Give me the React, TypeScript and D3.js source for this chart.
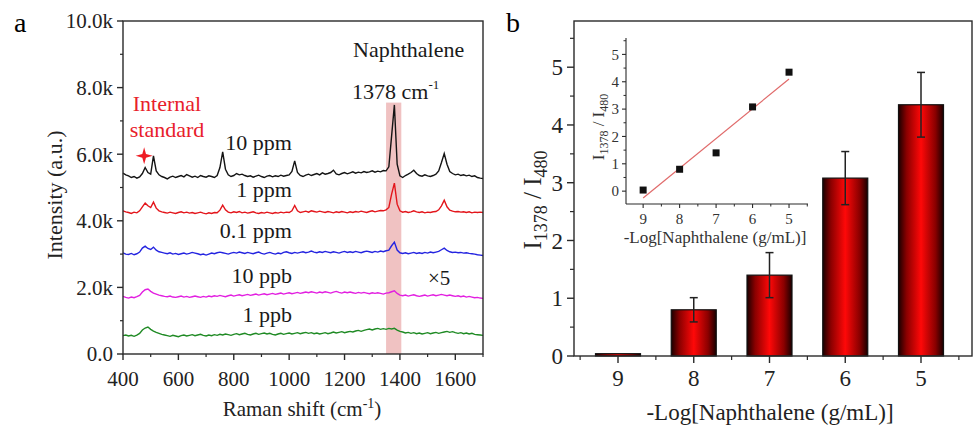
import React from "react";
import * as d3 from "d3";

const WIDTH = 974;
const HEIGHT = 426;
const SERIF = "Liberation Serif, DejaVu Serif, serif";

// ---- panel a: SERS spectra, intensity in k a.u., one point every 10 cm-1 from 400 to 1700
const WAVE_START = 400;
const WAVE_STEP = 10;

const spec10ppm = [
  5.43, 5.38, 5.35, 5.30, 5.33, 5.28, 5.32, 5.42, 5.60, 5.45,
  5.40, 5.95, 5.50, 5.38, 5.33, 5.30, 5.26, 5.31, 5.34, 5.30,
  5.33, 5.36, 5.32, 5.39, 5.35, 5.31, 5.34, 5.30, 5.36, 5.33,
  5.31, 5.35, 5.33, 5.30, 5.36, 5.60, 6.07, 5.55, 5.38, 5.33,
  5.36, 5.42, 5.38, 5.40, 5.36, 5.33, 5.35, 5.31, 5.34, 5.37,
  5.33, 5.30, 5.34, 5.36, 5.32, 5.35, 5.33, 5.37, 5.34, 5.36,
  5.38, 5.48, 5.80, 5.45, 5.36, 5.33, 5.37, 5.40, 5.36, 5.39,
  5.42, 5.38, 5.44, 5.40, 5.42, 5.45, 5.52, 5.41, 5.38, 5.42,
  5.45, 5.41, 5.44, 5.47, 5.43, 5.46, 5.44, 5.48, 5.45, 5.47,
  5.50, 5.46, 5.49, 5.47, 5.51, 5.50, 5.62, 6.55, 7.48, 5.70,
  5.35, 5.30, 5.36, 5.40, 5.45, 5.52, 5.42, 5.36, 5.34, 5.38,
  5.35, 5.33, 5.36, 5.40, 5.50, 5.75, 6.02, 5.70, 5.48, 5.42,
  5.38, 5.40, 5.36, 5.38, 5.35, 5.37, 5.33, 5.35, 5.30, 5.28,
  5.27,
];
const spec1ppm = [
  4.30, 4.27, 4.25, 4.22, 4.26, 4.24, 4.30, 4.42, 4.53, 4.45,
  4.40, 4.56, 4.38, 4.30, 4.27, 4.25, 4.23, 4.26, 4.24, 4.22,
  4.25, 4.27, 4.24, 4.26, 4.23, 4.25, 4.22, 4.24, 4.26, 4.23,
  4.21, 4.24, 4.22, 4.25, 4.24, 4.32, 4.47, 4.33, 4.26, 4.24,
  4.27, 4.25, 4.28, 4.24, 4.26, 4.23, 4.25, 4.27, 4.24, 4.22,
  4.25, 4.23, 4.26, 4.24, 4.22, 4.25, 4.23, 4.26, 4.24, 4.26,
  4.25, 4.30, 4.46, 4.30, 4.25, 4.27, 4.29, 4.26, 4.30, 4.28,
  4.26, 4.29, 4.27, 4.25, 4.28, 4.26, 4.24, 4.27, 4.25, 4.28,
  4.26, 4.24, 4.27, 4.25, 4.28, 4.26, 4.29, 4.27, 4.25, 4.28,
  4.30, 4.27, 4.29, 4.31, 4.30, 4.33, 4.40, 4.80, 5.13, 4.50,
  4.30, 4.26, 4.28, 4.25, 4.27, 4.30, 4.27, 4.25, 4.27, 4.24,
  4.26, 4.25, 4.27, 4.28, 4.33, 4.45, 4.62, 4.42, 4.32, 4.29,
  4.27, 4.28, 4.26, 4.27, 4.25, 4.27, 4.24, 4.26, 4.25, 4.26,
  4.25,
];
const spec01ppm = [
  3.04, 3.00, 2.99, 3.02, 2.98, 3.01, 3.06, 3.18, 3.24, 3.17,
  3.14, 3.21, 3.12, 3.07, 3.05, 3.03, 3.01, 3.04, 3.00, 3.02,
  2.99, 3.01, 3.03, 3.00, 3.02, 3.05, 3.03, 3.01, 2.98, 3.00,
  2.97, 3.00, 3.03, 3.01, 3.04, 3.06, 3.04, 3.02, 3.00, 3.03,
  3.05, 3.03, 3.06, 3.04, 3.02, 3.05, 3.03, 3.01, 3.04, 3.06,
  3.02, 3.00, 3.03, 3.05, 3.02, 3.00, 3.03, 3.01, 3.05, 3.07,
  3.04, 3.02, 3.05, 3.03, 3.05, 3.07, 3.04, 3.06, 3.09, 3.06,
  3.04, 3.07, 3.05, 3.08, 3.06, 3.04, 3.07, 3.05, 3.03, 3.06,
  3.08, 3.05, 3.07, 3.05, 3.08, 3.06, 3.04, 3.07, 3.09, 3.07,
  3.05, 3.08, 3.06, 3.09, 3.07, 3.10, 3.12, 3.25, 3.36, 3.12,
  3.04, 3.02, 3.04, 3.01, 3.03, 3.05, 3.02, 3.04, 3.02, 3.05,
  3.03, 3.06, 3.04, 3.06, 3.08, 3.13, 3.18, 3.11, 3.07, 3.05,
  3.06, 3.04, 3.05, 3.03, 3.04, 3.02, 3.01, 3.00, 2.98, 2.97,
  2.96,
];
const spec10ppb = [
  1.73, 1.70, 1.68, 1.71, 1.69, 1.72, 1.76, 1.86, 1.93, 1.95,
  1.88, 1.83, 1.80, 1.77, 1.75, 1.73, 1.72, 1.74, 1.71, 1.70,
  1.72, 1.74, 1.71, 1.73, 1.70, 1.72, 1.74, 1.72, 1.70, 1.73,
  1.71, 1.74, 1.72, 1.75, 1.73, 1.76, 1.74, 1.72, 1.75, 1.77,
  1.74, 1.76, 1.78, 1.75, 1.77, 1.79, 1.76, 1.78, 1.80, 1.77,
  1.79, 1.81, 1.78, 1.80, 1.82, 1.79, 1.81, 1.83, 1.80, 1.82,
  1.84, 1.81, 1.83, 1.85, 1.82, 1.84, 1.86, 1.84, 1.87, 1.85,
  1.83, 1.86, 1.84, 1.87, 1.85, 1.83, 1.86, 1.88, 1.85, 1.83,
  1.86, 1.84, 1.86, 1.84, 1.82, 1.85, 1.83, 1.85, 1.83, 1.81,
  1.84, 1.82, 1.84, 1.82, 1.80, 1.83, 1.84, 1.87, 1.90, 1.82,
  1.77, 1.75, 1.77, 1.74, 1.76, 1.78, 1.75, 1.73, 1.75, 1.77,
  1.74, 1.76, 1.78, 1.75, 1.77, 1.79, 1.77, 1.75, 1.77, 1.75,
  1.73, 1.75, 1.72, 1.74, 1.71, 1.73, 1.71, 1.69, 1.70, 1.68,
  1.67,
];
const spec1ppb = [
  0.55, 0.57, 0.54, 0.56, 0.53, 0.57, 0.62, 0.72, 0.78, 0.81,
  0.74, 0.69, 0.65, 0.62, 0.59, 0.57, 0.55, 0.53, 0.56, 0.54,
  0.52, 0.55, 0.57, 0.54, 0.56, 0.58, 0.55, 0.57, 0.59, 0.56,
  0.54, 0.57, 0.55, 0.58, 0.56, 0.59, 0.57, 0.60, 0.58, 0.56,
  0.59, 0.61, 0.58, 0.60, 0.62, 0.59, 0.57, 0.60, 0.62, 0.59,
  0.61, 0.63, 0.60, 0.62, 0.59, 0.57, 0.60, 0.62, 0.59, 0.61,
  0.63, 0.60, 0.62, 0.64, 0.61, 0.63, 0.65, 0.62, 0.64, 0.61,
  0.63, 0.60, 0.62, 0.64, 0.61, 0.63, 0.66, 0.63, 0.65, 0.67,
  0.64, 0.66, 0.68, 0.66, 0.69, 0.71, 0.68, 0.71, 0.73, 0.75,
  0.72, 0.75, 0.77, 0.74, 0.76, 0.74, 0.77, 0.75, 0.77, 0.72,
  0.68, 0.66, 0.63, 0.65, 0.62, 0.64, 0.61, 0.63, 0.60, 0.62,
  0.64, 0.61, 0.63, 0.65, 0.62, 0.64, 0.66, 0.68, 0.65, 0.67,
  0.64, 0.62, 0.64, 0.61, 0.63, 0.60, 0.62, 0.59, 0.58, 0.57,
  0.56,
];

const spectrumNames = ["10 ppm", "1 ppm", "0.1 ppm", "10 ppb", "1 ppb"];
const spectrumValues = [spec10ppm, spec1ppm, spec01ppm, spec10ppb, spec1ppb];
const spectrumColors = ["#141414", "#e3151b", "#2424e0", "#e21fe0", "#1f8a24"];
// where each concentration label sits (right end wavenumber, baseline intensity)
const labelWave = 1010;
const labelLevels = [6.12, 4.71, 3.48, 2.13, 0.96];

const ramanTicks = [400, 600, 800, 1000, 1200, 1400, 1600];
const intensityTicks = [0, 2, 4, 6, 8, 10];
const band = [1350, 1405];
const bandTop = 7.55;
const internalStd = { wave: 480, level: 5.95 };

// ---- panel b: ratio vs -log concentration
const concLabels = ["9", "8", "7", "6", "5"];
const ratioMean = [0.04, 0.8, 1.4, 3.08, 4.35];
const ratioErr = [0, 0.21, 0.39, 0.46, 0.56];
const ratioTicks = [0, 1, 2, 3, 4, 5];
const insetX = [9, 8, 7, 6, 5];
const fitX = [9, 5];
const fitY = [-0.25, 4.1];

const AXIS = "#2a2a2a";

export default function App() {
  // panel a layout
  const A = { left: 123, top: 21, right: 483, bottom: 354 };
  const xA = d3.scaleLinear().domain([400, 1700]).range([A.left, A.right]);
  const yA = d3.scaleLinear().domain([0, 10]).range([A.bottom, A.top]);
  const specLine = d3
    .line<number>()
    .x((_, i) => xA(WAVE_START + i * WAVE_STEP))
    .y((d) => yA(d));

  // four-point star marking the internal standard band
  const starPath =
    d3
      .lineRadial<number>()
      .angle((i) => (i * Math.PI) / 4)
      .radius((i) => (i % 2 === 0 ? 8.5 : 2.6))
      .curve(d3.curveLinearClosed)(d3.range(8)) || "";

  // panel b layout
  const B = { left: 574, top: 21, right: 972, bottom: 356 };
  const xB = d3.scalePoint<string>().domain(concLabels).range([B.left + 44, B.right - 51]);
  const yB = d3.scaleLinear().domain([0, 5.8]).range([B.bottom, B.top]);
  const stepB = xB.step();
  const barW = 45;

  // inset layout
  const I = { left: 626, top: 38, right: 808, bottom: 204 };
  const xI = d3.scaleLinear().domain([9.47, 4.48]).range([I.left, I.right]);
  const yI = d3.scaleLinear().domain([-0.47, 5.6]).range([I.bottom, I.top]);
  const fitLine = d3
    .line<number>()
    .x((d) => xI(d))
    .y((_, i) => yI(fitY[i]));

  const minorA = xA.ticks(13).filter((t) => !ramanTicks.includes(t));
  const minorAy = yA.ticks(10).filter((t) => !intensityTicks.includes(t));
  const minorBy = d3.range(0.5, 5.8, 1);
  const minorBx = d3.range(concLabels.length + 1).map((i) => (xB(concLabels[0]) as number) - stepB / 2 + i * stepB);
  const minorIy = d3.range(0.5, 5.6, 1);
  const minorIx = [8.5, 7.5, 6.5, 5.5, 4.5];

  return (
    <svg
      width={WIDTH}
      height={HEIGHT}
      style={{ position: "absolute", left: 0, top: 0, background: "#fff", fontFamily: SERIF }}
    >
      <defs>
        <linearGradient id="barGrad" x1="0" x2="1" y1="0" y2="0">
          <stop offset="0" stopColor="#1a0000" />
          <stop offset="0.18" stopColor="#8a0000" />
          <stop offset="0.5" stopColor="#ff0808" />
          <stop offset="0.82" stopColor="#8a0000" />
          <stop offset="1" stopColor="#1a0000" />
        </linearGradient>
      </defs>

      {/* ================= panel a ================= */}
      <text x={14} y={32} fontSize={28}>a</text>

      <rect
        x={xA(band[0])}
        y={yA(bandTop)}
        width={xA(band[1]) - xA(band[0])}
        height={yA(0) - yA(bandTop)}
        fill="#f0c2c2"
      />

      {spectrumValues.map((vals, k) => (
        <path key={k} d={specLine(vals) || ""} fill="none" stroke={spectrumColors[k]} strokeWidth={1.4} />
      ))}

      {spectrumNames.map((n, k) => (
        <text key={n} x={xA(labelWave)} y={yA(labelLevels[k])} fontSize={22} textAnchor="end" fill="#1a1a1a">
          {n}
        </text>
      ))}

      <rect x={A.left} y={A.top} width={A.right - A.left} height={A.bottom - A.top} fill="none" stroke={AXIS} strokeWidth={1.4} />

      {intensityTicks.map((t) => (
        <g key={t}>
          <line x1={A.left - 6} x2={A.left} y1={yA(t)} y2={yA(t)} stroke={AXIS} strokeWidth={1.4} />
          <text x={A.left - 10} y={yA(t)} dy="0.35em" fontSize={21} textAnchor="end" fill="#222">
            {t === 0 ? "0.0" : `${t.toFixed(1)}k`}
          </text>
        </g>
      ))}
      {minorAy.map((t) => (
        <line key={t} x1={A.left - 3} x2={A.left} y1={yA(t)} y2={yA(t)} stroke={AXIS} strokeWidth={1.2} />
      ))}
      {ramanTicks.map((t) => (
        <g key={t}>
          <line x1={xA(t)} x2={xA(t)} y1={A.bottom} y2={A.bottom + 6} stroke={AXIS} strokeWidth={1.4} />
          <text x={xA(t)} y={386} fontSize={21} textAnchor="middle" fill="#222">{t}</text>
        </g>
      ))}
      {minorA.map((t) => (
        <line key={t} x1={xA(t)} x2={xA(t)} y1={A.bottom} y2={A.bottom + 3} stroke={AXIS} strokeWidth={1.2} />
      ))}

      <text transform="translate(62,195) rotate(-90)" fontSize={22} textAnchor="middle" fill="#222">
        Intensity (a.u.)
      </text>
      <text x={302} y={416} fontSize={21} textAnchor="middle" fill="#222">
        Raman shift (cm<tspan dy={-8} fontSize={14}>-1</tspan>
        <tspan dy={8}>)</tspan>
      </text>

      <text x={167} y={111} fontSize={22} textAnchor="middle" fill="#e8202a">Internal</text>
      <text x={167} y={137} fontSize={22} textAnchor="middle" fill="#e8202a">standard</text>
      <path
        d={starPath}
        transform={`translate(${xA(internalStd.wave) - 1},${yA(internalStd.level)})`}
        fill="#ee1c24"
      />

      <text x={353} y={57} fontSize={22} fill="#1a1a1a">Naphthalene</text>
      <text x={352} y={99} fontSize={22} fill="#1a1a1a">
        1378 cm<tspan dy={-10} fontSize={13}>-1</tspan>
      </text>
      <text x={428} y={285} fontSize={21} fill="#1a1a1a">×5</text>

      {/* ================= panel b ================= */}
      <text x={506} y={32} fontSize={28}>b</text>

      {concLabels.map((c, i) => {
        const cx = xB(c) as number;
        return (
          <rect
            key={c}
            x={cx - barW / 2}
            y={yB(ratioMean[i])}
            width={barW}
            height={yB(0) - yB(ratioMean[i])}
            fill="url(#barGrad)"
            stroke="#111"
            strokeWidth={1.2}
          />
        );
      })}
      {concLabels.map((c, i) => {
        if (ratioErr[i] === 0) return null;
        const cx = xB(c) as number;
        const hi = yB(ratioMean[i] + ratioErr[i]);
        const lo = yB(ratioMean[i] - ratioErr[i]);
        return (
          <g key={c} stroke="#222" strokeWidth={1.5}>
            <line x1={cx} x2={cx} y1={hi} y2={lo} />
            <line x1={cx - 4} x2={cx + 4} y1={hi} y2={hi} />
            <line x1={cx - 4} x2={cx + 4} y1={lo} y2={lo} />
          </g>
        );
      })}

      <rect x={B.left} y={B.top} width={B.right - B.left} height={B.bottom - B.top} fill="none" stroke={AXIS} strokeWidth={1.4} />

      {ratioTicks.map((t) => (
        <g key={t}>
          <line x1={B.left - 7} x2={B.left} y1={yB(t)} y2={yB(t)} stroke={AXIS} strokeWidth={1.4} />
          <text x={B.left - 11} y={yB(t)} dy="0.35em" fontSize={23} textAnchor="end" fill="#222">{t}</text>
        </g>
      ))}
      {minorBy.map((t) => (
        <line key={t} x1={B.left - 4} x2={B.left} y1={yB(t)} y2={yB(t)} stroke={AXIS} strokeWidth={1.2} />
      ))}
      {concLabels.map((c) => (
        <g key={c}>
          <line x1={xB(c)} x2={xB(c)} y1={B.bottom} y2={B.bottom + 7} stroke={AXIS} strokeWidth={1.4} />
          <text x={xB(c)} y={386} fontSize={23} textAnchor="middle" fill="#222">{c}</text>
        </g>
      ))}
      {minorBx.map((v, i) => (
        <line key={i} x1={v} x2={v} y1={B.bottom} y2={B.bottom + 4} stroke={AXIS} strokeWidth={1.2} />
      ))}

      <text transform="translate(541,200) rotate(-90)" fontSize={25} textAnchor="middle" fill="#222">
        I<tspan dy={6} fontSize={18}>1378</tspan>
        <tspan dy={-6}> / I</tspan>
        <tspan dy={6} fontSize={18}>480</tspan>
      </text>
      <text x={770} y={420} fontSize={23} textAnchor="middle" fill="#222">-Log[Naphthalene (g/mL)]</text>

      {/* inset */}
      <path d={fitLine(fitX) || ""} fill="none" stroke="#e06a6a" strokeWidth={1.2} />
      {insetX.map((v, i) => (
        <rect key={v} x={xI(v) - 3.5} y={yI(ratioMean[i]) - 3.5} width={7} height={7} fill="#111" />
      ))}
      <line x1={I.left} x2={I.left} y1={I.top} y2={I.bottom} stroke={AXIS} strokeWidth={1.1} />
      <line x1={I.left} x2={I.right} y1={I.bottom} y2={I.bottom} stroke={AXIS} strokeWidth={1.1} />
      {ratioTicks.map((t) => (
        <g key={t}>
          <line x1={I.left - 4} x2={I.left} y1={yI(t)} y2={yI(t)} stroke={AXIS} strokeWidth={1.1} />
          <text x={I.left - 7} y={yI(t)} dy="0.35em" fontSize={15} textAnchor="end" fill="#333">{t}</text>
        </g>
      ))}
      {minorIy.map((t) => (
        <line key={t} x1={I.left - 2.5} x2={I.left} y1={yI(t)} y2={yI(t)} stroke={AXIS} strokeWidth={1} />
      ))}
      {insetX.map((v) => (
        <g key={v}>
          <line x1={xI(v)} x2={xI(v)} y1={I.bottom} y2={I.bottom + 4} stroke={AXIS} strokeWidth={1.1} />
          <text x={xI(v)} y={224} fontSize={15} textAnchor="middle" fill="#333">{v}</text>
        </g>
      ))}
      {minorIx.map((v) => (
        <line key={v} x1={xI(v)} x2={xI(v)} y1={I.bottom} y2={I.bottom + 2.5} stroke={AXIS} strokeWidth={1} />
      ))}
      <text transform="translate(604,127) rotate(-90)" fontSize={17} textAnchor="middle" fill="#333">
        I<tspan dy={4} fontSize={12}>1378</tspan>
        <tspan dy={-4}> / I</tspan>
        <tspan dy={4} fontSize={12}>480</tspan>
      </text>
      <text x={715} y={243} fontSize={17} textAnchor="middle" fill="#333">-Log[Naphthalene (g/mL)]</text>
    </svg>
  );
}
